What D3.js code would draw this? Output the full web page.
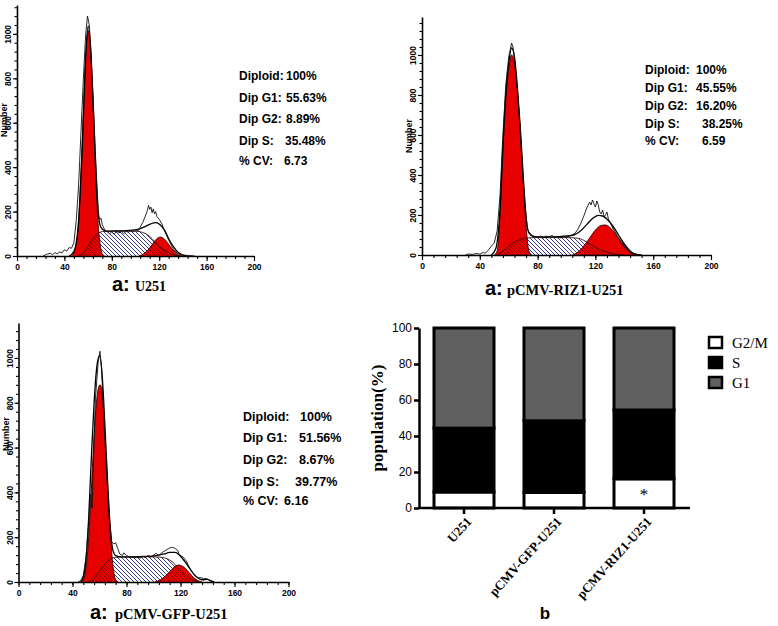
<!DOCTYPE html>
<html><head><meta charset="utf-8">
<script src="https://cdn.jsdelivr.net/npm/d3@7"></script>
<style>body{margin:0;background:#fff} svg{display:block}</style>
</head><body>
<svg id="c" width="778" height="626"></svg>
<script>
// ---------------- DATA ----------------
const xTicks = [0, 40, 80, 120, 160, 200];
const yTicks = [0, 200, 400, 600, 800, 1000];
const statLabels = ["Diploid:", "Dip G1:", "Dip G2:", "Dip S:", "% CV:"];
const u251Stats = ["100%", "55.63%", "8.89%", "35.48%", "6.73"];
const rizStats = ["100%", "45.55%", "16.20%", "38.25%", "6.59"];
const gfpStats = ["100%", "51.56%", "8.67%", "39.77%", "6.16"];

// U251 histogram (channel, count)
const u251G1 = [[46,0],[49,30],[52,150],[54,380],[56,650],[58,900],[60,1015],[62,930],[64,700],[66,420],[68,180],[70,60],[72,10],[74,0]];
const u251S = [[52,0],[56,15],[60,45],[64,78],[68,100],[72,110],[80,112],[90,112],[100,112],[106,106],[110,96],[114,78],[118,55],[122,35],[128,15],[134,3],[138,0]];
const u251G2 = [[103,0],[107,10],[111,30],[115,58],[118,78],[121,85],[124,78],[127,60],[130,38],[133,18],[136,5],[139,0]];
const u251Fit = [[44,0],[48,20],[52,160],[55,480],[58,900],[60,1035],[62,950],[64,720],[66,450],[68,230],[70,140],[72,120],[76,112],[85,113],[95,115],[102,120],[108,132],[113,145],[117,150],[121,140],[125,112],[128,78],[132,42],[136,16],[140,4],[144,0]];
const u251Raw = [[22,0],[25,8],[28,12],[30,6],[32,15],[34,10],[36,18],[38,14],[40,28],[42,22],[44,38],[46,35],[48,60],[50,160],[52,320],[54,560],[56,800],[58,1000],[59.5,1080],[61,1040],[62,950],[64,740],[66,480],[68,260],[69,180],[70,165],[71,170],[72,140],[74,118],[76,110],[78,100],[80,108],[82,98],[84,112],[86,104],[88,110],[90,100],[92,112],[94,106],[96,115],[98,108],[100,118],[102,112],[104,130],[106,150],[108,175],[110,205],[111,228],[112,210],[113,220],[114,195],[115,212],[116,190],[117,200],[118,178],[120,165],[122,148],[124,120],[126,95],[128,72],[130,50],[132,32],[134,18],[136,10],[138,6],[140,4],[143,3],[146,2],[150,0]];

// pCMV-RIZ1-U251 histogram
const rizG1 = [[50,0],[52,20],[54,200],[56,520],[58,780],[60,930],[62,1000],[64,960],[66,820],[68,620],[70,380],[72,150],[74,20],[76,0]];
const rizS = [[52,0],[56,20],[60,45],[64,65],[68,78],[72,85],[80,87],[90,87],[100,87],[106,85],[110,80],[114,65],[118,48],[122,32],[128,15],[134,5],[140,0]];
const rizG2 = [[104,0],[108,15],[112,45],[116,85],[120,125],[124,148],[127,150],[130,138],[134,105],[138,65],[142,30],[146,8],[149,0]];
const rizFit = [[48,0],[51,30],[54,230],[56,550],[58,810],[60,960],[62,1035],[64,990],[66,840],[68,640],[70,400],[72,190],[74,110],[77,92],[85,90],[95,92],[105,100],[110,122],[114,152],[118,182],[122,198],[125,195],[128,180],[132,145],[136,100],[140,55],[144,20],[148,4],[152,0]];
const rizRaw = [[30,0],[32,5],[35,3],[38,8],[40,4],[42,12],[44,10],[46,25],[48,45],[50,60],[52,120],[54,300],[56,600],[58,850],[60,990],[62,1060],[63,1040],[64,980],[66,830],[68,620],[70,370],[72,200],[73,130],[74,115],[76,100],[78,92],[80,88],[82,95],[84,85],[86,95],[88,90],[90,98],[92,88],[94,92],[96,86],[98,92],[100,88],[102,95],[104,100],[106,110],[108,130],[110,160],[112,195],[114,235],[116,265],[117,250],[118,275],[119,255],[120,240],[121,270],[122,250],[123,215],[124,205],[125,225],[126,190],[127,200],[128,215],[129,180],[130,165],[132,135],[134,110],[136,85],[138,60],[140,40],[142,25],[144,12],[146,6],[148,2],[150,0]];

// pCMV-GFP-U251 histogram
const gfpG1 = [[47,0],[49,30],[51,120],[53,300],[55,540],[57,750],[59,860],[60.5,880],[62,840],[64,650],[66,420],[68,220],[70,70],[72,10],[74,0]];
const gfpS = [[52,0],[56,20],[60,50],[64,80],[68,102],[72,110],[80,112],[90,112],[100,112],[106,110],[110,104],[114,90],[118,65],[122,40],[126,20],[130,8],[134,0]];
const gfpG2 = [[101,0],[105,10],[109,28],[113,52],[116,70],[118.5,76],[121,72],[124,58],[127,38],[130,18],[133,6],[136,0]];
const gfpFit = [[46,0],[48,20],[50,100],[52,290],[54,560],[56,800],[58,960],[60,1010],[62,920],[64,700],[66,450],[68,240],[70,140],[72,118],[76,112],[85,112],[95,114],[102,118],[108,125],[112,132],[116,132],[120,115],[124,85],[128,50],[132,22],[136,10],[140,12],[142,6],[145,0]];
const gfpRaw = [[44,0],[46,5],[48,30],[50,110],[52,260],[53.3,390],[54.5,330],[55.5,540],[57,820],[59,980],[60.3,1030],[61.5,960],[63,760],[65,520],[67,300],[69,180],[70.5,170],[72,175],[73.5,150],[75,125],[77,118],[78,130],[80,118],[82,112],[84,110],[86,108],[88,112],[90,106],[92,115],[94,110],[96,118],[98,112],[100,120],[102,128],[104,118],[106,130],[108,138],[110,145],[112,152],[114,155],[116,150],[118,140],[119,122],[121,115],[123,105],[125,85],[127,60],[129,42],[131,28],[133,18],[135,20],[137,15],[139,16],[141,10],[143,3],[145,0]];

// Bar chart (b)
const categories = ["U251", "pCMV-GFP-U251", "pCMV-RIZ1-U251"];
const g2mValues = [8.89, 8.67, 16.20];
const sValues = [35.48, 39.77, 38.25];
const g1Values = [55.63, 51.56, 45.55];
const barYTicks = [0, 20, 40, 60, 80, 100];
const legendLabels = ["G2/M", "S", "G1"];

// ---------------- DRAW ----------------
const svg = d3.select("#c");
const SANS = "'Liberation Sans', Arial, sans-serif";
const SERIF = "'Liberation Serif', 'Times New Roman', serif";
const RED = "#e60000";

const defs = svg.append("defs");
defs.append("pattern").attr("id","hb").attr("patternUnits","userSpaceOnUse").attr("width",4).attr("height",4)
  .call(p => { p.append("rect").attr("width",4).attr("height",4).attr("fill","#fff");
               p.append("path").attr("d","M-1,-1L5,5M-1,3L1,5M3,-1L5,1").attr("stroke","#262680").attr("stroke-width",0.9).attr("fill","none"); });
defs.append("pattern").attr("id","hr").attr("patternUnits","userSpaceOnUse").attr("width",4).attr("height",4)
  .append("path").attr("d","M-1,-1L5,5M-1,3L1,5M3,-1L5,1").attr("stroke","#7a0000").attr("stroke-width",0.8).attr("fill","none");

const panels = [
  { x0: 17, x1: 254, y0: 256, yTop: 5, yMax: 1130, g1: u251G1, s: u251S, g2: u251G2, fit: u251Fit, raw: u251Raw,
    stats: u251Stats, lx: 239, vx: [286,286,286,285,284], by: [80,101.5,123,144.5,165], fs: 12,
    numberY: 120, ax: 112, ay: 291, tx: 135, title: "U251", tfs: 14 },
  { x0: 422, x1: 711, y0: 255, yTop: 17, yMax: 1190, g1: rizG1, s: rizS, g2: rizG2, fit: rizFit, raw: rizRaw,
    stats: rizStats, lx: 645, vx: [696,696,696,702,702], by: [74,92,110,127.5,145], fs: 12,
    numberY: 136, ax: 485, ay: 295, tx: 507, title: "pCMV-RIZ1-U251", tfs: 14.5 },
  { x0: 18.5, x1: 288.5, y0: 582, yTop: 323, yMax: 1156, g1: gfpG1, s: gfpS, g2: gfpG2, fit: gfpFit, raw: gfpRaw,
    stats: gfpStats, lx: 243, vx: [300,299,299,295,284], by: [421,442,464,486,505], fs: 12.5,
    numberY: 434, ax: 90, ay: 619, tx: 115, title: "pCMV-GFP-U251", tfs: 14.5 }
];

panels.forEach((P, i) => {
  const x = d3.scaleLinear().domain([0, 200]).range([P.x0, P.x1]);
  const y = d3.scaleLinear().domain([0, P.yMax]).range([P.y0, P.yTop]);
  const g = svg.append("g");
  const area = d3.area().x(d => x(d[0])).y0(y(0)).y1(d => y(d[1])).curve(d3.curveMonotoneX);
  const line = d3.line().x(d => x(d[0])).y(d => y(d[1])).curve(d3.curveMonotoneX);
  const rawLine = d3.line().x(d => x(d[0])).y(d => y(d[1]));

  const clip = defs.append("clipPath").attr("id", "cl" + i);
  clip.append("path").attr("d", area(P.g1));
  clip.append("path").attr("d", area(P.g2));

  g.append("path").attr("d", area(P.s)).attr("fill", "url(#hb)");
  g.append("path").attr("d", area(P.g1)).attr("fill", RED);
  g.append("path").attr("d", area(P.g2)).attr("fill", RED);
  g.append("path").attr("d", area(P.s)).attr("fill", "url(#hr)").attr("clip-path", `url(#cl${i})`);
  g.append("path").attr("d", line(P.s)).attr("fill", "none").attr("stroke", "#3a1010").attr("stroke-width", 0.9);
  g.append("path").attr("d", line(P.g1)).attr("fill", "none").attr("stroke", "#300").attr("stroke-width", 0.9);
  g.append("path").attr("d", line(P.g2)).attr("fill", "none").attr("stroke", "#300").attr("stroke-width", 0.9);
  g.append("path").attr("d", line(P.fit)).attr("fill", "none").attr("stroke", "#000").attr("stroke-width", 1.3);
  g.append("path").attr("d", rawLine(P.raw)).attr("fill", "none").attr("stroke", "#111").attr("stroke-width", 0.9);

  // axes
  const xa = g.append("g").attr("transform", `translate(0,${P.y0})`)
    .call(d3.axisBottom(x).tickValues(xTicks).tickSize(5).tickSizeOuter(0).tickFormat(d3.format("d")));
  g.append("g").attr("transform", `translate(0,${P.y0})`)
    .call(d3.axisBottom(x).tickValues(d3.range(0, 201, 8)).tickSize(3).tickSizeOuter(0).tickFormat(""))
    .select(".domain").remove();
  xa.selectAll("text").attr("font-family", SANS).attr("font-weight", "bold").attr("font-size", 8.5).attr("y", 8);
  const ya = g.append("g").attr("transform", `translate(${P.x0},0)`)
    .call(d3.axisLeft(y).tickValues(yTicks).tickSize(4).tickSizeOuter(0).tickFormat(d3.format("d")));
  g.append("g").attr("transform", `translate(${P.x0},0)`)
    .call(d3.axisLeft(y).tickValues(d3.range(0, P.yMax, 40)).tickSize(2.5).tickSizeOuter(0).tickFormat(""))
    .select(".domain").remove();
  ya.selectAll("text").attr("transform", "rotate(-90)").attr("x", 0).attr("y", -6).attr("dy", 0)
    .attr("text-anchor", "middle").attr("font-family", SANS).attr("font-weight", "bold").attr("font-size", 8.5);
  g.selectAll(".domain").attr("stroke-width", 1.6);
  g.selectAll(".tick line").attr("stroke-width", 1.1);

  g.append("text").attr("transform", `translate(${P.x0 - 10},${P.numberY}) rotate(-90)`)
    .attr("text-anchor", "middle").attr("font-family", SANS).attr("font-weight", "bold").attr("font-size", 9)
    .text("Number");

  // stats
  statLabels.forEach((t, k) => {
    g.append("text").attr("x", P.lx).attr("y", P.by[k]).attr("font-family", SANS).attr("font-weight", "bold")
      .attr("font-size", P.fs).text(t);
    g.append("text").attr("x", P.vx[k]).attr("y", P.by[k]).attr("font-family", SANS).attr("font-weight", "bold")
      .attr("font-size", P.fs).text(P.stats[k]);
  });
  // title
  g.append("text").attr("x", P.ax).attr("y", P.ay).attr("font-family", SANS).attr("font-weight", "bold")
    .attr("font-size", 20).text("a:");
  g.append("text").attr("x", P.tx).attr("y", P.ay).attr("font-family", SERIF).attr("font-weight", "bold")
    .attr("font-size", P.tfs).text(P.title);
});

// ---------- bar chart ----------
const yB = d3.scaleLinear().domain([0, 100]).range([508, 328]);
const xB = d3.scaleBand().domain(categories).range([419, 689]).paddingInner(1/3).paddingOuter(1/6);
const rows = categories.map((c, i) => ({ cat: c, "G2/M": g2mValues[i], S: sValues[i], G1: g1Values[i] }));
const stack = d3.stack().keys(legendLabels)(rows);
const fills = { "G2/M": "#ffffff", S: "#000000", G1: "#606060" };
const bg = svg.append("g");
stack.forEach(layer => {
  bg.selectAll(null).data(layer).enter().append("rect")
    .attr("x", d => xB(d.data.cat)).attr("width", xB.bandwidth())
    .attr("y", d => yB(d[1])).attr("height", d => yB(d[0]) - yB(d[1]))
    .attr("fill", fills[layer.key]).attr("stroke", "#000").attr("stroke-width", 3);
});
// asterisk on RIZ1 G2/M
bg.append("text").attr("x", xB(categories[2]) + xB.bandwidth() / 2).attr("y", yB(g2mValues[2] / 2) + 7)
  .attr("text-anchor", "middle").attr("font-family", SERIF).attr("font-size", 17).text("*");

const yAxB = bg.append("g").attr("transform", "translate(419,0)")
  .call(d3.axisLeft(yB).tickValues(barYTicks).tickSize(5).tickSizeOuter(0));
yAxB.selectAll("text").attr("font-family", SANS).attr("font-size", 12).attr("x", -7);
const xAxB = bg.append("g").attr("transform", "translate(0,508)")
  .call(d3.axisBottom(xB).tickSize(6).tickSizeOuter(0));
xAxB.select(".domain").attr("d", "M419,0H690");
xAxB.selectAll("text").attr("font-family", SERIF).attr("font-weight", "bold").attr("font-size", 13)
  .attr("text-anchor", "end").attr("transform", "translate(5,11) rotate(-48)").attr("x", 0).attr("y", 0).attr("dy", "0.35em");
bg.selectAll(".domain").attr("stroke-width", 2.5);
bg.selectAll(".tick line").attr("stroke-width", 2.5);

bg.append("text").attr("transform", "translate(383,418) rotate(-90)").attr("text-anchor", "middle")
  .attr("font-family", SERIF).attr("font-weight", "bold").attr("font-size", 17).text("population(%)");

// legend
legendLabels.forEach((k, i) => {
  bg.append("rect").attr("x", 709).attr("y", 337 + i * 20).attr("width", 13).attr("height", 11)
    .attr("fill", fills[k]).attr("stroke", "#000").attr("stroke-width", 2.5);
  bg.append("text").attr("x", 732).attr("y", 347.5 + i * 20).attr("font-family", SERIF).attr("font-size", 15).text(k);
});
bg.append("text").attr("x", 545).attr("y", 619).attr("text-anchor", "middle").attr("font-family", SANS)
  .attr("font-weight", "bold").attr("font-size", 17).text("b");
</script>
</body></html>
